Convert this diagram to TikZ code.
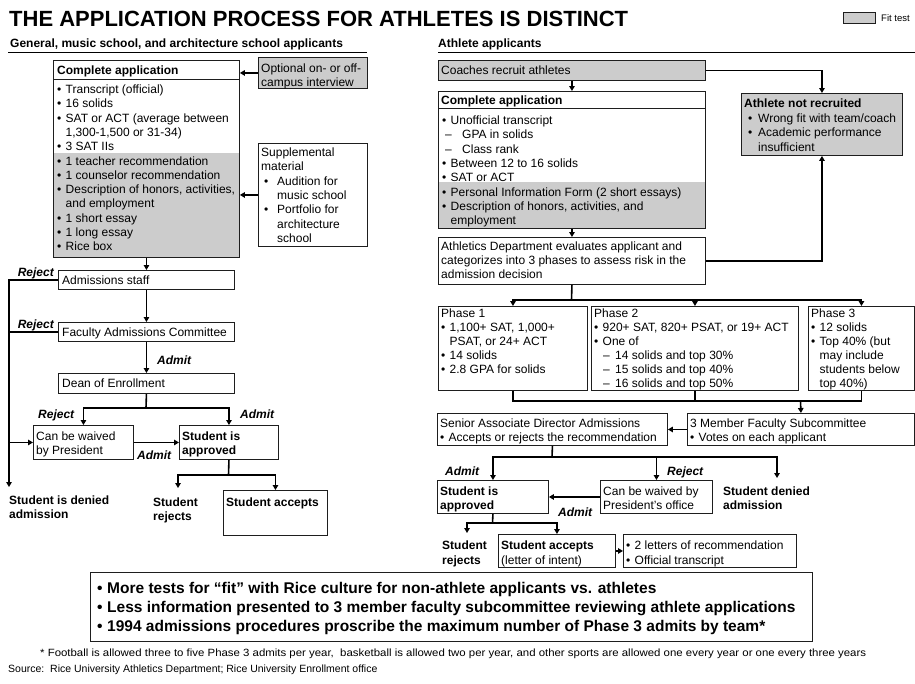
\documentclass[tikz,border=0pt]{standalone}
\usepackage{fontspec}
\setmainfont{Liberation Sans}
\usepackage{graphicx}
\usetikzlibrary{arrows.meta}
\definecolor{fitg}{RGB}{204,204,204}
\definecolor{edgec}{RGB}{30,30,30}
\newcommand\fs{\fontsize{12}{14.3}\selectfont}
\newcommand\st{\rule{0pt}{9.5pt}}
\newcommand\bu{\makebox[8.5pt][l]{\textbullet}}
\newcommand\ind{\hspace*{8.5pt}}
\newcommand\dsh{\hspace*{3pt}\makebox[17pt][l]{–}}
\newcommand\dshb{\hspace*{9pt}\makebox[12pt][l]{–}}
\newcommand\bub{\hspace*{3pt}\makebox[13pt][l]{\textbullet}}
\newcommand\indb{\hspace*{16pt}}
\newcommand\buc{\hspace*{4pt}\makebox[10pt][l]{\textbullet}}
\newcommand\indc{\hspace*{14pt}}
\newcommand\mybox[6][]{\node[box,#1,minimum width={#5-#3},minimum height={#6-#4}] (#2) at (#3,#4) {};}
\begin{document}
\begin{tikzpicture}[x=1pt,y=-1pt,
  box/.style={draw=edgec,line width=0.9pt,anchor=north west,inner sep=0pt,rectangle},
  gbox/.style={fill=fitg},
  tx/.style={anchor=north west,inner sep=0pt,align=left,font=\fs},
  hd/.style={anchor=base west,inner sep=0pt,font=\bfseries\fontsize{12}{14}\selectfont},
  lbl/.style={anchor=base west,inner sep=0pt,font=\bfseries\itshape\fontsize{12}{14}\selectfont},
  conn/.style={draw=black,line width=1.6pt},
  arr/.style={conn,-{Triangle[length=5pt,width=5.5pt]}},
  rulel/.style={draw=black,line width=0.8pt}]
\fill[white] (0,0) rectangle (915,683);
\useasboundingbox (0,0) rectangle (915,683);

% ---------- title, headings, legend
\node[anchor=base west,inner sep=0pt,font=\bfseries\fontsize{22}{26}\selectfont] (title) at (9,26) {THE APPLICATION PROCESS FOR ATHLETES IS DISTINCT};
\node[hd] (hdl) at (10,47) {General, music school, and architecture school applicants};
\node[hd] (hdr) at (438,47) {Athlete applicants};
\draw[rulel] (8,52) -- (367,52);
\draw[rulel] (438,52.5) -- (915,52.5);
\mybox[gbox]{lg}{843}{12}{875}{23}
\node[anchor=base west,inner sep=0pt,font=\fontsize{9.5}{11}\selectfont] (lgt) at (881,21) {Fit test};

% ---------- left column
\fill[fitg] (53,153) rectangle (239,257);
\mybox{ca}{53}{60}{239}{257}
\draw[line width=0.9pt,draw=edgec] (53,79) -- (239,79);
\node[tx] (cah) at (57,64.3) {\st\textbf{Complete application}};
\node[tx] (cab) at (57,83.8) {\st\bu Transcript (official)\\ \bu 16 solids\\ \bu SAT or ACT (average between\\ \ind 1,300-1,500 or 31-34)\\ \bu 3 SAT IIs\\ \bu 1 teacher recommendation\\ \bu 1 counselor recommendation\\ \bu Description of honors, activities,\\ \ind and employment\\ \bu 1 short essay\\ \bu 1 long essay\\ \bu Rice box};

\mybox[gbox]{opt}{258}{57}{367}{88}
\node[tx] (optt) at (261,62.8) {\st Optional on- or off-\\campus interview};
\mybox{supp}{258}{143}{367}{246}
\node[tx] (suppt) at (261,146.8) {\st Supplemental\\material\\ \bub Audition for\\ \indb music school\\ \bub Portfolio for\\ \indb architecture\\ \indb school};

\mybox{as}{58}{270}{234}{289}
\node[tx] (ast) at (62,274.8) {\st Admissions staff};
\mybox{fac}{58}{322}{234}{341}
\node[tx] (fact) at (62,326.8) {\st Faculty Admissions Committee};
\mybox{dean}{58}{373}{234}{393}
\node[tx] (deant) at (62,377.8) {\st Dean of Enrollment};
\mybox{cbw}{33}{425}{133}{459}
\node[tx] (cbwt) at (36,430.8) {\st Can be waived\\by President};
\mybox{appr}{179}{425}{278}{459}
\node[tx,font=\fs\bfseries] (apprt) at (182,430.8) {\st Student is\\approved};
\mybox{acc}{223}{490}{327}{535}
\node[tx,font=\fs\bfseries] (acct) at (226,496.8) {\st Student accepts};
\node[tx,font=\bfseries\fontsize{12}{13.5}\selectfont] (den) at (9,494.8) {\st Student is denied\\admission};
\node[tx,font=\bfseries\fontsize{12}{14}\selectfont] (rej) at (153,496.8) {\st Student\\rejects};

\node[lbl,anchor=base east] (lrj1) at (54,276.3) {Reject};
\node[lbl,anchor=base east] (lrj2) at (54,328.3) {Reject};
\node[lbl] (lad1) at (157,364.3) {Admit};
\node[lbl] (lrj3) at (38,418.3) {Reject};
\node[lbl] (lad2) at (240,418.3) {Admit};
\node[lbl] (lad3) at (137,459.3) {Admit};

\coordinate (dentip) at (9,487);
\coordinate (dsplit) at (146,408);
\coordinate (asplit) at (228.5,475);
\coordinate (rejtip) at (178,488);

\draw[arr] (opt.west) -- (opt.west -| ca.east);
\draw[arr] (supp.west) -- (supp.west -| ca.east);
\draw[arr] (ca.south) -- (as.north);
\draw[arr] (as.south) -- (fac.north);
\draw[arr] (fac.south) -- (dean.north);
\draw[conn] (dean.south) -- (dsplit);
\draw[arr] (dsplit) -| (cbw.north);
\draw[arr] (dsplit) -| (appr.north);
\draw[arr] (as.west) -- (as.west -| dentip) -- (dentip);
\draw[conn] (fac.west) -- (fac.west -| dentip);
\draw[arr] (cbw.west -| dentip) -- (cbw.west);
\draw[arr] (cbw.east) -- (appr.west);
\draw[conn] (appr.south) -- (asplit);
\draw[arr] (asplit) -| (rejtip);
\draw[arr] (asplit) -| (acc.north);

% ---------- right column
\mybox[gbox]{coach}{438}{60}{705}{80}
\node[tx] (coacht) at (441,64.8) {\st Coaches recruit athletes};
\fill[fitg] (438,182) rectangle (705,228);
\mybox{cr}{438}{91}{705}{228}
\draw[line width=0.9pt,draw=edgec] (438,108) -- (705,108);
\node[tx] (crh) at (441,94.3) {\st\textbf{Complete application}};
\node[tx] (crb) at (442,114.8) {\st\bu Unofficial transcript\\ \dsh GPA in solids\\ \dsh Class rank\\ \bu Between 12 to 16 solids\\ \bu SAT or ACT\\ \bu Personal Information Form (2 short essays)\\ \bu Description of honors, activities, and\\ \ind employment};

\mybox[gbox]{anr}{741}{93}{902}{155}
\node[tx,font=\fontsize{12}{14.6}\selectfont] (anrt) at (744,97.8) {\st\textbf{Athlete not recruited}\\ \buc Wrong fit with team/coach\\ \buc Academic performance\\ \indc insufficient};

\mybox{ath}{438}{237}{705}{284}
\node[tx,font=\fontsize{12}{14}\selectfont] (atht) at (441,240.8) {\st Athletics Department evaluates applicant and\\categorizes into 3 phases to assess risk in the\\admission decision};

\mybox{p1}{438}{306}{587}{390}
\node[tx,font=\fontsize{12}{14.1}\selectfont] (p1t) at (441,307.3) {\st Phase 1\\ \bu 1,100+ SAT, 1,000+\\ \ind PSAT, or 24+ ACT\\ \bu 14 solids\\ \bu 2.8 GPA for solids};
\mybox{p2}{591}{306}{798}{390}
\node[tx,font=\fontsize{12}{14.1}\selectfont] (p2t) at (594,307.3) {\st Phase 2\\ \bu 920+ SAT, 820+ PSAT, or 19+ ACT\\ \bu One of\\ \dshb 14 solids and top 30\%\\ \dshb 15 solids and top 40\%\\ \dshb 16 solids and top 50\%};
\mybox{p3}{808}{306}{914}{390}
\node[tx,font=\fontsize{12}{14.1}\selectfont] (p3t) at (811,307.3) {\st Phase 3\\ \bu 12 solids\\ \bu Top 40\% (but\\ \ind may include\\ \ind students below\\ \ind top 40\%)};

\mybox{sad}{437}{413}{667}{445}
\node[tx,font=\fontsize{12}{14}\selectfont] (sadt) at (440,417.8) {\st Senior Associate Director Admissions\\ \bu Accepts or rejects the recommendation};
\mybox{fs}{687}{413}{914}{445}
\node[tx,font=\fontsize{12}{14}\selectfont] (fst) at (690,417.8) {\st 3 Member Faculty Subcommittee\\ \bu Votes on each applicant};

\mybox{appr2}{437}{480}{548}{513}
\node[tx,font=\bfseries\fontsize{12}{14}\selectfont] (appr2t) at (440,485.8) {\st Student is\\approved};
\mybox{cbw2}{600}{480}{712}{513}
\node[tx,font=\fontsize{12}{14}\selectfont] (cbw2t) at (603,485.8) {\st Can be waived by\\President's office};
\node[tx,font=\bfseries\fontsize{12}{14}\selectfont] (den2) at (723,485.8) {\st Student denied\\admission};

\node[tx,font=\bfseries\fontsize{12}{15}\selectfont] (rej2) at (442,539.8) {\st Student\\rejects};
\mybox{acc2}{498}{534}{615}{567}
\node[tx,font=\fontsize{12}{15}\selectfont] (acc2t) at (501,539.8) {\st\textbf{Student accepts}\\(letter of intent)};
\mybox{let}{623}{534}{796}{567}
\node[tx,font=\fontsize{12}{15}\selectfont] (lett) at (626,539.8) {\st\bu 2 letters of recommendation\\ \bu Official transcript};

\node[lbl] (lad4) at (445,475.3) {Admit};
\node[lbl] (lrj4) at (667,475.3) {Reject};
\node[lbl] (lad5) at (558,516.3) {Admit};

\coordinate (psplit) at (571.5,300);
\coordinate (pmerge) at (800.5,401);
\coordinate (ssplit) at (552,457);
\coordinate (den2tip) at (777,478);
\coordinate (a2split) at (492.5,523);
\coordinate (rej2tip) at (467,533);

\draw[arr] (coach.south) -- (cr.north);
\draw[arr] (coach.east) -| (anr.north);
\draw[arr] (cr.south) -- (ath.north);
\draw[arr] (ath.east) -| (anr.south);
\draw[conn] (ath.south) -- (psplit);
\draw[arr] (psplit) -| (p1.north);
\draw[arr] (psplit) -| (p2.north);
\draw[arr] (psplit) -| (p3.north);
\draw[conn] (p1.south) |- (pmerge);
\draw[conn] (p3.south) |- (pmerge);
\draw[conn] (p2.south) -- (p2.south |- pmerge);
\draw[arr] (pmerge) -- (fs.north);
\draw[arr] (fs.west) -- (sad.east);
\draw[conn] (sad.south) -- (ssplit);
\draw[arr] (ssplit) -| (appr2.north);
\draw[arr] (ssplit) -| (cbw2.north);
\draw[arr] (ssplit) -| (den2tip);
\draw[arr] (cbw2.west) -- (appr2.east);
\draw[conn] (appr2.south) -- (a2split);
\draw[arr] (a2split) -| (rej2tip);
\draw[arr] (a2split) -| (acc2.north);
\draw[arr] (acc2.east) -- (let.west);

% ---------- summary and notes
\mybox{sum}{90}{572}{812}{641}
\node[tx,font=\bfseries\fontsize{15.5}{19}\selectfont] (sumt) at (97,581.1) {\rule{0pt}{12.5pt}\makebox[10pt][l]{\textbullet}More tests for “fit” with Rice culture for non-athlete applicants vs. athletes\\ \makebox[10pt][l]{\textbullet}Less information presented to 3 member faculty subcommittee reviewing athlete applications\\ \makebox[10pt][l]{\textbullet}1994 admissions procedures proscribe the maximum number of Phase 3 admits by team*};
\node[anchor=base west,inner sep=0pt,font=\fontsize{10.5}{12}\selectfont] (foot) at (40,656.6) {\resizebox{826pt}{\height}{* Football is allowed three to five Phase 3 admits per year, \ basketball is allowed two per year, and other sports are allowed one every year or one every three years}};
\node[anchor=base west,inner sep=0pt,font=\fontsize{10.5}{12}\selectfont] (src) at (8,672.6) {Source:\ \ Rice University Athletics Department; Rice University Enrollment office};
\end{tikzpicture}
\end{document}
